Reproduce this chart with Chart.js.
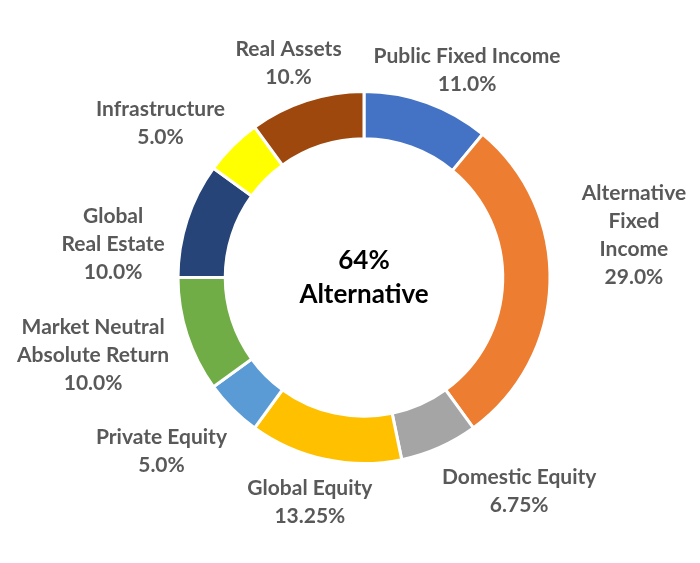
<!DOCTYPE html>
<html>
<head>
<meta charset="utf-8">
<script src="https://cdn.jsdelivr.net/npm/chart.js@4"></script>
<style>
    html, body { margin: 0; padding: 0; background: #ffffff; }
    #wrap { width: 700px; height: 563px; }
</style>
</head>
<body>
<div id="wrap"><canvas id="allocChart" width="700" height="563"></canvas></div>
<script>
/*
------------------------------------------------------------
Data
------------------------------------------------------------
*/

const categories = [
    ["Public Fixed Income"],
    ["Alternative", "Fixed", "Income"],
    ["Domestic Equity"],
    ["Global Equity"],
    ["Private Equity"],
    ["Market Neutral", "Absolute Return"],
    ["Global", "Real Estate"],
    ["Infrastructure"],
    ["Real Assets"]
];

const allocations = [11, 29, 6.75, 13.25, 5, 10, 10, 5, 10];

const valueLabels = ["11.0%", "29.0%", "6.75%", "13.25%", "5.0%", "10.0%", "10.0%", "5.0%", "10.%"];

const centerLines = ["64%", "Alternative"];

/*
------------------------------------------------------------
Look
------------------------------------------------------------
*/

const sliceColors = [
    "#4472C4", "#ED7D31", "#A5A5A5", "#FFC000", "#5B9BD5",
    "#70AD47", "#264478", "#FFFF00", "#9E480E"
];

// nudge of each label block from the outer edge at slice mid-angle
const labelNudge = [
    [40, -33], [84, -49], [80, 43], [-15, 42], [-71, 41],
    [-94, 20], [-74, 23], [-72, -23], [-18, -38]
];

const LABEL_FONT = "bold 21px Lato";
const LABEL_LINE = 28;
const LABEL_CAP = 7.5;

/*
------------------------------------------------------------
Plugins
------------------------------------------------------------
*/

const sliceLabels = {
    id: "sliceLabels",
    afterDatasetsDraw(chart) {
        const ctx = chart.ctx;
        const arcs = chart.getDatasetMeta(0).data;
        ctx.save();
        ctx.font = LABEL_FONT;
        ctx.fillStyle = "#595959";
        ctx.textAlign = "center";
        ctx.textBaseline = "alphabetic";
        arcs.forEach((arc, i) => {
            const p = arc.getProps(["x", "y", "startAngle", "endAngle", "outerRadius"], true);
            const mid = (p.startAngle + p.endAngle) / 2;
            const cx = p.x + Math.cos(mid) * p.outerRadius + labelNudge[i][0];
            const cy = p.y + Math.sin(mid) * p.outerRadius + labelNudge[i][1];
            const lines = categories[i].concat([valueLabels[i]]);
            const top = cy - (lines.length - 1) * LABEL_LINE / 2;
            lines.forEach((t, k) => {
                ctx.fillText(t, cx, top + k * LABEL_LINE + LABEL_CAP);
            });
        });
        ctx.restore();
    }
};

const centerText = {
    id: "centerText",
    afterDatasetsDraw(chart) {
        const ctx = chart.ctx;
        const arc = chart.getDatasetMeta(0).data[0];
        ctx.save();
        ctx.font = "bold 26px Lato";
        ctx.fillStyle = "#000000";
        ctx.textAlign = "center";
        ctx.textBaseline = "alphabetic";
        ctx.fillText(centerLines[0], arc.x, arc.y - 8.5);
        ctx.fillText(centerLines[1], arc.x, arc.y + 25);
        ctx.restore();
    }
};

/*
------------------------------------------------------------
Chart
------------------------------------------------------------
*/

const ctx = document.getElementById("allocChart").getContext("2d");

new Chart(ctx, {
    type: "doughnut",
    data: {
        labels: categories,
        datasets: [{
            data: allocations,
            backgroundColor: sliceColors,
            borderColor: "#ffffff",
            borderWidth: 3
        }]
    },
    options: {
        responsive: false,
        animation: false,
        radius: 186,
        cutout: "74.6%",
        layout: { padding: { left: 28, right: 0, top: 0, bottom: 8 } },
        plugins: {
            legend: { display: false },
            tooltip: { enabled: false }
        }
    },
    plugins: [sliceLabels, centerText]
});
</script>
</body>
</html>
